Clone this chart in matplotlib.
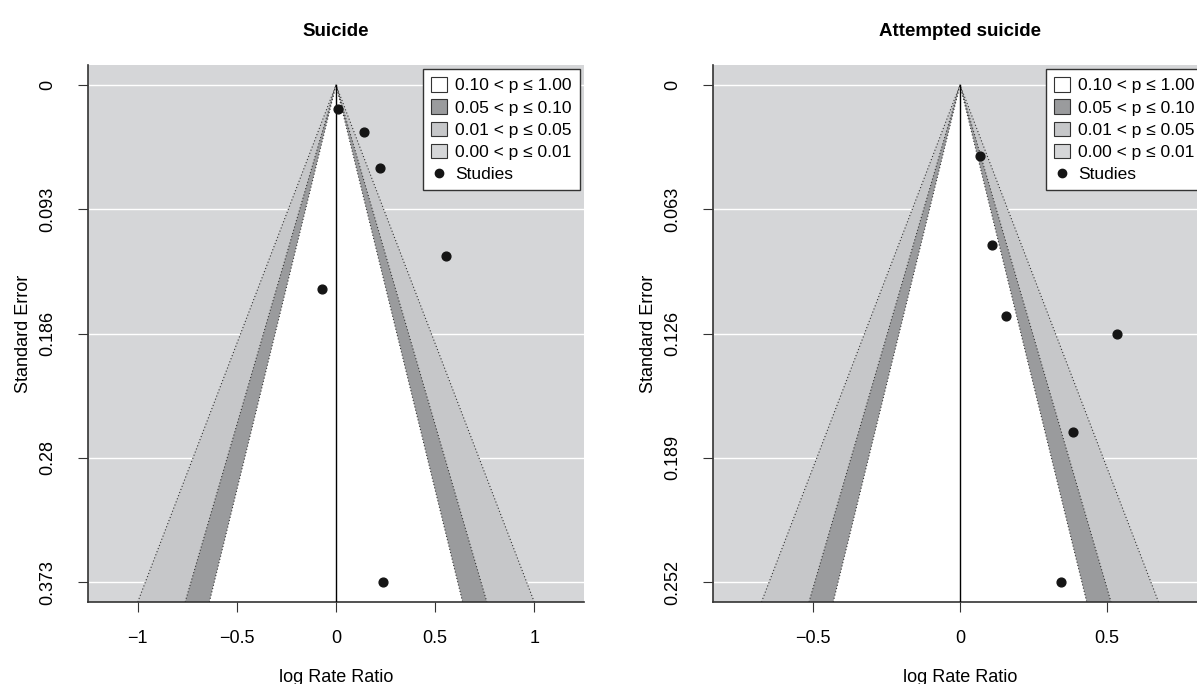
import matplotlib
matplotlib.use("Agg")
import matplotlib.pyplot as plt
from matplotlib.patches import Patch
from matplotlib.lines import Line2D
import numpy as np

plt.rcParams['font.family'] = ['Liberation Sans', 'DejaVu Sans']

# study estimates (log rate ratio, standard error)
suicide_yi = [0.012, 0.139, 0.223, 0.553, -0.069, 0.236]
suicide_sei = [0.018, 0.035, 0.062, 0.128, 0.153, 0.373]
suicide_ticks = ["0", "0.093", "0.186", "0.28", "0.373"]

attempt_yi = [0.068, 0.109, 0.156, 0.535, 0.385, 0.344]
attempt_sei = [0.036, 0.081, 0.117, 0.1265, 0.176, 0.252]
attempt_ticks = ["0", "0.063", "0.126", "0.189", "0.252"]

titles = ["Suicide", "Attempted suicide"]
xticks = [[-1, -0.5, 0, 0.5, 1], [-0.5, 0, 0.5]]
xtick_labels = [["\u22121", "\u22120.5", "0", "0.5", "1"], ["\u22120.5", "0", "0.5"]]

# z for p = 0.01, 0.05, 0.10 (outer to inner)
z_levels = [2.576, 1.960, 1.645]
legend_labels = ["0.10 < p \u2264 1.00", "0.05 < p \u2264 0.10",
                 "0.01 < p \u2264 0.05", "0.00 < p \u2264 0.01"]

back = "#d5d6d8"
shades = ["#c6c7c9", "#9a9b9d", "white"]
legend_colors = ["white", "#9a9b9d", "#c6c7c9", back]


def funnel(ax, yi, sei, tick_labels, title, xlim, xt, xtl):
    semax = max(sei)
    ylow = -0.04 * semax
    yhigh = semax * 1.04
    ax.set_facecolor(back)
    ticks = np.linspace(0, semax, 5)
    for t in ticks:
        ax.axhline(t, color="white", lw=1, zorder=1)
    for z, c in zip(z_levels, shades):
        ax.fill([0, -z * yhigh, z * yhigh], [0, yhigh, yhigh], color=c, lw=0, zorder=2)
    for z in z_levels:
        ax.plot([-z * yhigh, 0, z * yhigh], [yhigh, 0, yhigh], color="#333333",
                lw=0.8, ls=(0, (1, 2)), zorder=3)
    ax.plot([0, 0], [0, yhigh], color="black", lw=1, zorder=4)
    ax.scatter(yi, sei, s=40, color="#151515", zorder=5)

    ax.set_xlim(xlim)
    ax.set_ylim(yhigh, ylow)
    ax.set_yticks(ticks)
    ax.set_yticklabels(tick_labels, rotation=90, va="center")
    ax.set_xticks(xt)
    ax.set_xticklabels(xtl)
    ax.tick_params(axis="both", length=7, width=0.8, labelsize=13, color="#333333")
    ax.tick_params(axis="y", pad=16)
    ax.tick_params(axis="x", pad=13)
    for s in ["top", "right"]:
        ax.spines[s].set_visible(False)
    for s in ["left", "bottom"]:
        ax.spines[s].set_color("#333333")
        ax.spines[s].set_linewidth(1.2)
    ax.set_xlabel("log Rate Ratio", fontsize=13, labelpad=16)
    ax.set_ylabel("Standard Error", fontsize=13, labelpad=5)
    ax.set_title(title, fontsize=13.5, fontweight="bold", pad=21)

    handles = [Patch(facecolor=c, edgecolor="#333333", lw=0.8) for c in legend_colors]
    handles.append(Line2D([], [], marker="o", ls="", color="#151515", markersize=6))
    leg = ax.legend(handles, legend_labels + ["Studies"], loc="upper right",
                    fontsize=12.5, fancybox=False, framealpha=1, edgecolor="#333333",
                    borderaxespad=0.25, handlelength=0.9, handleheight=0.9,
                    handletextpad=0.5, labelspacing=0.35, borderpad=0.45)
    leg.get_frame().set_linewidth(1)
    leg.set_zorder(10)


fig = plt.figure(figsize=(11.97, 6.84), dpi=100)
ax1 = fig.add_axes([88 / 1197, 82 / 684, 496 / 1197, 537 / 684])
ax2 = fig.add_axes([713 / 1197, 82 / 684, 494 / 1197, 537 / 684])

funnel(ax1, suicide_yi, suicide_sei, suicide_ticks, titles[0], (-1.25, 1.25), xticks[0], xtick_labels[0])
funnel(ax2, attempt_yi, attempt_sei, attempt_ticks, titles[1], (-0.84, 0.84), xticks[1], xtick_labels[1])

fig.savefig("out.png", dpi=100)
